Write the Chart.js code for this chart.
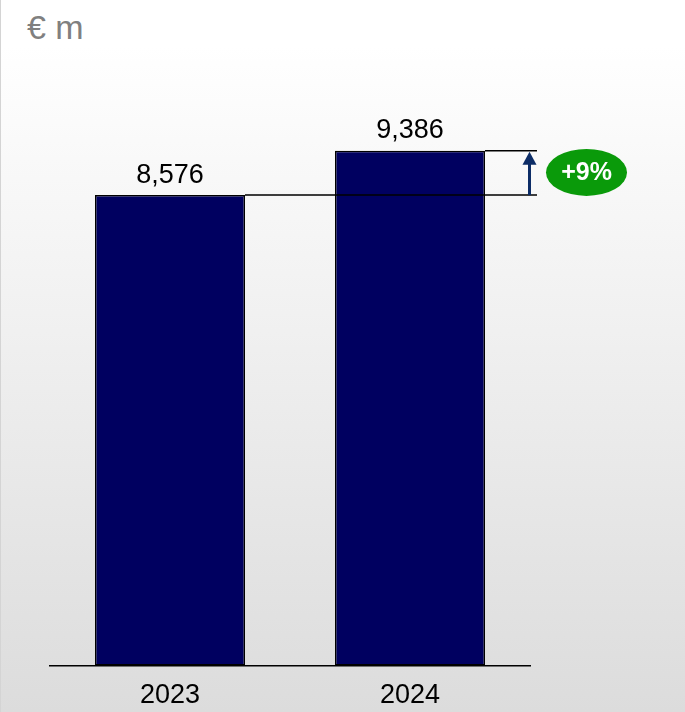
<!DOCTYPE html>
<html>
<head>
<meta charset="utf-8">
<script src="https://cdn.jsdelivr.net/npm/chart.js@4"></script>
<style>
  html, body { margin: 0; padding: 0; }
  body {
    width: 685px; height: 712px; overflow: hidden;
    background: linear-gradient(to bottom, #ffffff 0px, #ffffff 45px, #dcdcdc 712px);
    position: relative;
  }
  .frame { position: absolute; left: 0; top: 0; width: 1px; height: 712px; background: #d4d4d4; }
  .unit {
    position: absolute; left: 27px; top: 8px;
    font-family: "Liberation Sans", Arial, sans-serif; font-size: 34px; color: #808080;
  }
  canvas { position: absolute; left: 0; top: 0; }
</style>
</head>
<body>
<div class="frame"></div>
<div class="unit">€ m</div>
<canvas id="c" width="685" height="712"></canvas>
<script>
// Revenue by year, € m
const years = ['2023', '2024'];
const revenue = [8576, 9386];
const growthLabel = '+9%';

const fmt = v => v.toLocaleString('en-US');

// value labels above each bar
const valueLabels = {
  id: 'valueLabels',
  afterDatasetsDraw(chart) {
    const { ctx } = chart;
    const meta = chart.getDatasetMeta(0);
    ctx.save();
    ctx.font = '27px "Liberation Sans", Arial, sans-serif';
    ctx.fillStyle = '#000';
    ctx.textAlign = 'center';
    ctx.textBaseline = 'middle';
    meta.data.forEach((bar, i) => {
      ctx.fillText(fmt(revenue[i]), bar.x, bar.y - 20);
    });
    ctx.restore();
  }
};

// reference lines, growth arrow and badge
const growthMarker = {
  id: 'growthMarker',
  afterDatasetsDraw(chart) {
    const { ctx, scales } = chart;
    const meta = chart.getDatasetMeta(0);
    const b0 = meta.data[0], b1 = meta.data[1];
    const y0 = scales.y.getPixelForValue(revenue[0]);
    const y1 = scales.y.getPixelForValue(revenue[1]);
    const r0 = b0.x + b0.width / 2;
    const r1 = b1.x + b1.width / 2;
    const xEnd = r1 + 52;
    const xArrow = r1 + 44.5;

    ctx.save();
    ctx.strokeStyle = '#000';
    ctx.lineWidth = 1.5;
    ctx.beginPath();
    ctx.moveTo(r0, y0); ctx.lineTo(xEnd, y0);
    ctx.moveTo(r1, y1); ctx.lineTo(xEnd, y1);
    ctx.stroke();

    // arrow
    ctx.strokeStyle = '#0c2c66';
    ctx.fillStyle = '#0c2c66';
    ctx.lineWidth = 3;
    ctx.beginPath();
    ctx.moveTo(xArrow, y0);
    ctx.lineTo(xArrow, y1 + 12);
    ctx.stroke();
    ctx.beginPath();
    ctx.moveTo(xArrow, y1 + 1);
    ctx.lineTo(xArrow - 7, y1 + 14);
    ctx.lineTo(xArrow + 7, y1 + 14);
    ctx.closePath();
    ctx.fill();

    // badge
    const cx = r1 + 101.5, cy = (y0 + y1) / 2 - 0.5;
    ctx.fillStyle = '#0a9a0a';
    ctx.beginPath();
    ctx.ellipse(cx, cy, 40.5, 23.5, 0, 0, Math.PI * 2);
    ctx.fill();
    ctx.fillStyle = '#fff';
    ctx.font = 'bold 25px "Liberation Sans", Arial, sans-serif';
    ctx.textAlign = 'center';
    ctx.textBaseline = 'middle';
    ctx.fillText(growthLabel, cx, cy + 1);
    ctx.restore();
  }
};

new Chart(document.getElementById('c'), {
  type: 'bar',
  data: {
    labels: years,
    datasets: [{
      data: revenue,
      backgroundColor: '#000060',
      borderColor: '#000000',
      borderWidth: 1.5,
      borderSkipped: false,
      barPercentage: 0.625,
      categoryPercentage: 1
    }]
  },
  options: {
    responsive: false,
    animation: false,
    layout: { padding: { left: 50, right: 155, top: 117, bottom: -6 } },
    plugins: { legend: { display: false }, tooltip: { enabled: false } },
    scales: {
      x: {
        grid: { display: false },
        border: { display: true, color: '#000', width: 1.5 },
        ticks: {
          color: '#000',
          padding: 6,
          font: { family: '"Liberation Sans", Arial, sans-serif', size: 27 }
        }
      },
      y: {
        display: false,
        min: 0,
        max: 10000
      }
    }
  },
  plugins: [valueLabels, growthMarker]
});
</script>
</body>
</html>
